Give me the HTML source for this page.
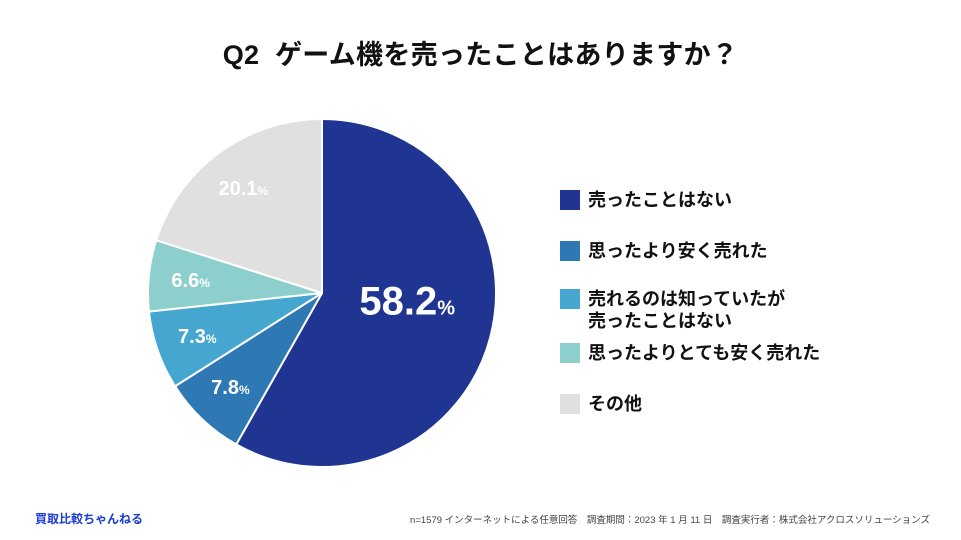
<!DOCTYPE html>
<html><head><meta charset="utf-8">
<style>
body{margin:0;width:961px;height:540px;background:#fff;font-family:"Liberation Sans","Noto Sans CJK JP",sans-serif;position:relative;overflow:hidden}
.t{position:absolute}
.leg{position:absolute;left:560px;font-size:18px;font-weight:bold;color:#111;line-height:22px}
.leg i{position:absolute;left:0;top:1px;width:20px;height:20px}
.leg span{position:absolute;left:28px;white-space:nowrap}
</style></head><body>
<div class="t" style="left:0;width:961px;top:33px;text-align:center;font-size:27px;font-weight:bold;color:#111;letter-spacing:0.3px">Q2&nbsp; ゲーム機を売ったことはありますか？</div>
<svg id="pie" width="961" height="540" style="position:absolute;left:0;top:0"></svg>
<div class="leg" style="top:189px"><i style="background:#1f3591"></i><span>売ったことはない</span></div>
<div class="leg" style="top:240px"><i style="background:#2e78b4"></i><span>思ったより安く売れた</span></div>
<div class="leg" style="top:288px"><i style="background:#45a7cf"></i><span>売れるのは知っていたが<br>売ったことはない</span></div>
<div class="leg" style="top:342px"><i style="background:#8ccfcd"></i><span>思ったよりとても安く売れた</span></div>
<div class="leg" style="top:393px"><i style="background:#e0e0e0"></i><span>その他</span></div>
<div class="t" style="left:35px;top:510px;font-size:12px;font-weight:bold;color:#1a3bd6">買取比較ちゃんねる</div>
<div class="t" style="right:31px;top:512px;font-size:9.5px;color:#444;white-space:nowrap">n=1579 インターネットによる任意回答　調査期間：2023 年 1 月 11 日　調査実行者：株式会社アクロスソリューションズ</div>
<script>
const categories=["売ったことはない","思ったより安く売れた","売れるのは知っていたが売ったことはない","思ったよりとても安く売れた","その他"];
const values=[58.2,7.8,7.3,6.6,20.1];
const colors=["#1f3591","#2e78b4","#45a7cf","#8ccfcd","#e0e0e0"];
const svg=document.getElementById('pie');
const NS="http://www.w3.org/2000/svg";
const cx=322,cy=293,R=174;
const total=values.reduce((a,b)=>a+b,0);
function pt(a,r){return [cx+r*Math.sin(a),cy-r*Math.cos(a)];}
let acc=0;
values.forEach((v,i)=>{
  const a0=acc/total*2*Math.PI; acc+=v; const a1=acc/total*2*Math.PI;
  const p0=pt(a0,R),p1=pt(a1,R);
  const path=document.createElementNS(NS,'path');
  path.setAttribute('d',`M${cx},${cy}L${p0[0]},${p0[1]}A${R},${R} 0 ${a1-a0>Math.PI?1:0} 1 ${p1[0]},${p1[1]}Z`);
  path.setAttribute('fill',colors[i]);path.setAttribute('stroke','#fff');path.setAttribute('stroke-width','2');
  
  
  svg.appendChild(path);
  const am=(a0+a1)/2; const big=v>40;
  const lp=pt(am,big?84:130);
  const tx=document.createElementNS(NS,'text');
  tx.setAttribute('x',lp[0]+(big?4:-2));tx.setAttribute('y',lp[1]+(big?0:7));
  tx.setAttribute('text-anchor','middle');tx.setAttribute('fill','#fff');
  tx.setAttribute('font-weight','bold');tx.setAttribute('font-size',big?40:20);
  tx.setAttribute('font-family','Liberation Sans, sans-serif');
  tx.innerHTML=v.toFixed(1)+`<tspan font-size="${big?20:12}">%</tspan>`;
  
  
  svg.appendChild(tx);
});
</script>
</body></html>
